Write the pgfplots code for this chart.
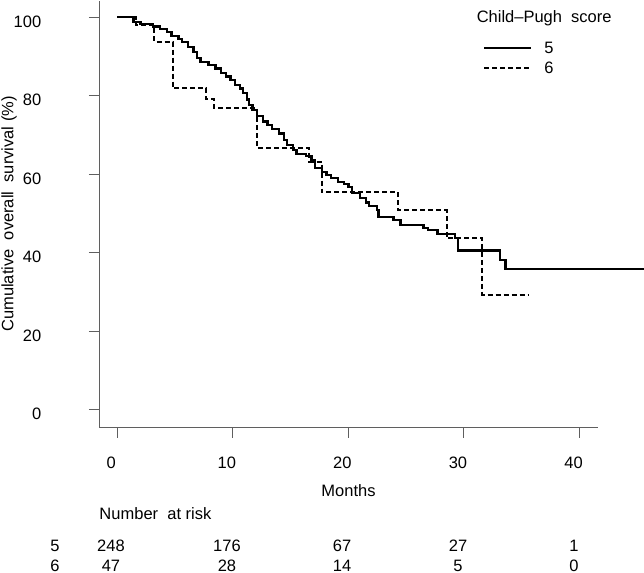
\documentclass[border=0pt]{standalone}
\usepackage{fontspec}
\setmainfont{Liberation Sans}
\usepackage{pgfplots}
\pgfplotsset{compat=1.18}
\definecolor{axgray}{RGB}{95,95,95}
\newcommand{\fs}{\fontsize{16.5bp}{19bp}\selectfont}
\begin{document}
\begin{tikzpicture}
\useasboundingbox (-99.3bp,-146bp) rectangle (544.7bp,427bp);
\begin{axis}[
  at={(0,0)}, anchor=south west,
  scale only axis, width=498.7bp, height=426bp,
  xmin=-1.56, xmax=41.6, ymin=-4.33, ymax=104.1,
  clip=false,
  axis x line*=bottom, axis y line*=left,
  axis line style={-, draw=axgray, line width=1bp},
  xtick={0,10,20,30,40}, ytick={0,20,40,60,80,100},
  minor tick num=0,
  tick align=outside, major tick length=10.5bp,
  tick style={draw=axgray, line width=1bp},
  /pgf/number format/assume math mode=true,
  tick label style={font=\fs, inner sep=0pt, outer sep=0pt},
  xticklabel style={anchor=base, yshift=-31bp, xshift=-6bp},
  yticklabel style={anchor=base east, xshift=-47.6bp, yshift=-10bp},
  legend style={draw=none, fill=none, at={(axis description cs:0.7694,0.9038)}, anchor=north west,
    inner sep=0pt, outer sep=0pt, font=\fs, row sep=8.2bp, column sep=12bp,
    nodes={inner sep=0pt, outer sep=0pt, text height=11.8bp, text depth=0bp}},
  legend cell align=left,
  legend image code/.code={\draw[#1] (0bp,0bp) -- (47bp,0bp);},
]
\addplot[const plot, black, line width=2.3bp] coordinates {
(0,100) (1.4,98.8) (2.0,98.2) (3.1,97.6) (3.7,96.9) (4.3,96.2) (4.7,95.2)
(5.3,94.5) (5.6,93.7) (6.1,92.4) (6.6,91.2) (6.9,89.6) (7.2,88.6) (7.9,87.8)
(8.5,86.9) (9.0,85.7) (9.4,84.9) (9.8,84.0) (10.2,82.8) (10.6,81.8) (10.9,80.6)
(11.2,79.0) (11.4,77.6) (11.7,76.4) (12.1,74.8) (12.6,73.4) (13.0,72.5) (13.4,71.6)
(14.0,70.4) (14.4,68.8) (14.7,67.4) (15.2,66.2) (15.5,65.2) (16.3,64.6) (16.8,63.6)
(17.1,61.6) (17.7,60.6) (18.1,59.8) (18.5,59.0) (19.1,58.1) (19.6,57.6) (20.0,56.8)
(20.3,55.2) (21.0,54.0) (21.5,52.8) (21.8,52.0) (22.5,50.9) (22.6,49.2) (23.9,48.3)
(24.5,47.1) (26.5,46.4) (26.9,45.8) (27.7,44.8) (29.2,43.8) (29.5,40.6) (33.1,38.2)
(33.6,35.8) (45.6,35.8)
};
\addlegendentry{5}
\addplot[const plot, black, line width=2bp, dash pattern=on 5bp off 3bp] coordinates {
(0,100) (1.6,97.9) (3.2,93.7) (4.8,81.9) (7.7,79.1) (8.4,76.8) (12.1,66.6)
(16.6,63.2) (17.7,55.5) (24.3,50.9) (28.5,43.7) (31.6,29.3) (35.6,29.3)
};
\addlegendentry{6}
\end{axis}
\node[font=\fs, anchor=base] at (444.9bp,404bp) {Child–Pugh\hspace{0.278em} score};
\node[font=\fs, rotate=90, anchor=center] at (-90.3bp,213bp) {Cumulative\hspace{0.278em} overall\hspace{0.278em} survival (\%)};
\node[font=\fs, anchor=base] at (249.2bp,-69bp) {Months};
\node[font=\fs, anchor=base west, inner sep=0pt] at (0bp,-92.3bp) {Number\hspace{0.278em} at risk};
\foreach \x/\a/\b in {11.7/248/47, 127.7/176/28, 242.7/67/14, 358.7/27/5, 474.7/1/0} {
  \node[font=\fs, anchor=base, inner sep=0pt] at (\x bp,-124bp) {\a};
  \node[font=\fs, anchor=base, inner sep=0pt] at (\x bp,-144bp) {\b};
}
\node[font=\fs, anchor=base, inner sep=0pt] at (-44.3bp,-124bp) {5};
\node[font=\fs, anchor=base, inner sep=0pt] at (-44.3bp,-144bp) {6};
\end{tikzpicture}
\end{document}
